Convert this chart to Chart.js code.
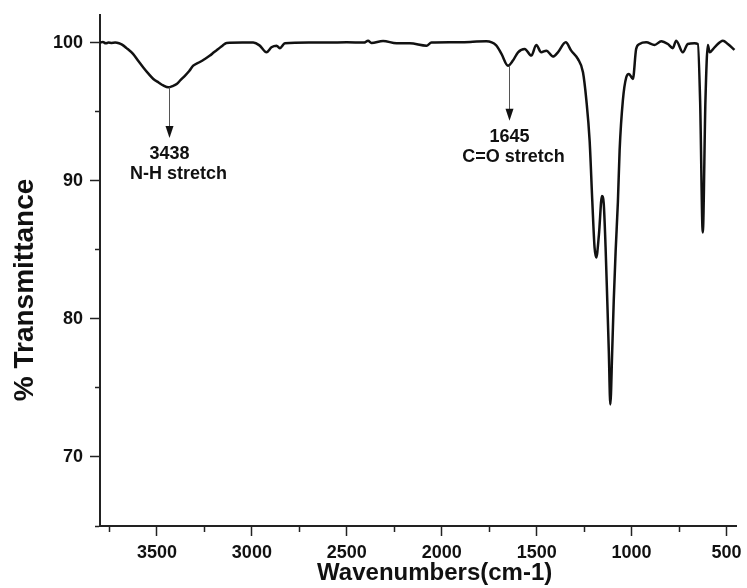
<!DOCTYPE html>
<html>
<head>
    <title>FTIR Spectrum</title>
    <script src="https://cdn.jsdelivr.net/npm/chart.js"></script>
    <style>
        body { margin: 0; background: #fff; }
    </style>
</head>
<body>
    <canvas id="myChart" width="747" height="588"></canvas>
    <script>
        // spectrum (cm-1, % transmittance)
        const wavenumbers = [
            3800, 3785, 3770, 3755, 3740, 3720, 3700, 3684, 3660, 3626,
            3600, 3572, 3545, 3519, 3490, 3467, 3440, 3418, 3396, 3375,
            3353, 3330, 3309, 3274, 3250, 3221, 3200, 3177, 3155, 3133,
            3050, 2993, 2960, 2923, 2897, 2870, 2853, 2826, 2700, 2600,
            2500, 2410, 2388, 2370, 2309, 2238, 2168, 2080, 2054, 1950,
            1850, 1765, 1713, 1686, 1651, 1625, 1598, 1563, 1528, 1502,
            1476, 1449, 1414, 1388, 1347, 1318, 1283, 1256, 1238, 1221,
            1207, 1195, 1186, 1172, 1156, 1147, 1137, 1128, 1120, 1112,
            1102, 1094, 1084, 1072, 1063, 1046, 1028, 1014, 993, 976,
            958, 923, 879, 844, 809, 783, 765, 730, 704, 668,
            651, 639, 625, 611, 598, 589, 563, 519, 493, 458
        ];
        const transmittance = [
            100.0, 100.05, 99.95, 100.0, 99.98, 100.0, 99.95, 99.85, 99.6, 99.18,
            98.7, 98.2, 97.75, 97.37, 97.1, 96.9, 96.76, 96.85, 97.0, 97.3,
            97.6, 97.95, 98.33, 98.6, 98.8, 99.06, 99.3, 99.54, 99.78, 99.98,
            100.0, 100.0, 99.8, 99.3, 99.66, 99.78, 99.6, 99.95, 100.0, 100.0,
            100.02, 100.0, 100.14, 99.98, 100.12, 99.95, 99.95, 99.78, 100.0, 100.02,
            100.05, 100.1, 99.8, 99.2, 98.33, 98.7, 99.3, 99.54, 99.06, 99.83,
            99.3, 99.42, 98.99, 99.3, 100.02, 99.42, 98.82, 97.85, 95.8, 92.9,
            88.55, 85.17, 84.44, 86.1, 88.9, 88.4, 85.2, 81.3, 77.7, 73.8,
            77.7, 81.3, 84.9, 88.5, 92.2, 95.8, 97.49, 97.73, 97.37, 99.54,
            99.9, 100.02, 99.83, 100.1, 99.9, 99.6, 100.14, 99.3, 99.9, 99.95,
            99.9, 95.8, 86.25, 95.8, 99.83, 99.3, 99.66, 100.14, 99.9, 99.47
        ];

        // peak annotations
        const annotWavenumber = [3438, 1645];
        const annotPeak = [96.76, 98.33];
        const annotArrowTip = [93.1, 94.35];
        const annotValue = ['3438', '1645'];
        const annotLabel = ['N-H stretch', 'C=O stretch'];

        const xMin = 450, xMax = 3800;
        const yMin = 65, yMax = 102;

        Chart.defaults.font.family = '"Liberation Sans", Arial, sans-serif';
        Chart.defaults.color = '#111';

        const peakArrows = {
            id: 'peakArrows',
            afterDatasetsDraw(chart) {
                const ctx = chart.ctx;
                const xs = chart.scales.x, ys = chart.scales.y;
                const labelDx = [9, 4];
                ctx.save();
                annotWavenumber.forEach((wn, i) => {
                    const x = Math.round(xs.getPixelForValue(wn)) + 0.5;
                    const y0 = ys.getPixelForValue(annotPeak[i]);
                    const y1 = ys.getPixelForValue(annotArrowTip[i]);
                    ctx.strokeStyle = '#555';
                    ctx.lineWidth = 1;
                    ctx.beginPath();
                    ctx.moveTo(x, y0);
                    ctx.lineTo(x, y1 - 10);
                    ctx.stroke();
                    ctx.fillStyle = '#111';
                    ctx.beginPath();
                    ctx.moveTo(x - 4, y1 - 12);
                    ctx.lineTo(x + 4, y1 - 12);
                    ctx.lineTo(x, y1);
                    ctx.closePath();
                    ctx.fill();
                    ctx.font = 'bold 18px "Liberation Sans", Arial, sans-serif';
                    ctx.textAlign = 'center';
                    ctx.textBaseline = 'middle';
                    ctx.fillText(annotValue[i], x, y1 + 16);
                    ctx.fillText(annotLabel[i], x + labelDx[i], y1 + 36);
                });
                ctx.restore();
            }
        };

        const ctx = document.getElementById('myChart').getContext('2d');
        new Chart(ctx, {
            type: 'line',
            data: {
                datasets: [{
                    data: wavenumbers.map((w, i) => ({ x: w, y: transmittance[i] })),
                    borderColor: '#111',
                    borderWidth: 2.5,
                    pointRadius: 0,
                    cubicInterpolationMode: 'monotone',
                    fill: false
                }]
            },
            options: {
                responsive: false,
                animation: false,
                layout: { padding: { top: 15, right: 11, bottom: 0, left: 0 } },
                plugins: {
                    legend: { display: false },
                    tooltip: { enabled: false }
                },
                scales: {
                    x: {
                        type: 'linear',
                        reverse: true,
                        min: xMin,
                        max: xMax,
                        afterFit: s => { s.height = 62; s.paddingLeft = 0; s.paddingRight = 0; },
                        border: { color: '#222', width: 2 },
                        grid: {
                            drawOnChartArea: false,
                            drawTicks: true,
                            tickLength: 10,
                            tickColor: '#222',
                            tickWidth: 1.5,
                            tickBorderDash: c => (c.tick && c.tick.value % 500 !== 0) ? [5, 20] : []
                        },
                        ticks: {
                            stepSize: 250,
                            includeBounds: false,
                            autoSkip: false,
                            maxRotation: 0,
                            padding: 6,
                            font: { size: 18, weight: 'bold' },
                            callback: v => v % 500 === 0 ? v : ''
                        },
                        title: {
                            display: true,
                            text: '     Wavenumbers(cm-1)',
                            font: { size: 24, weight: 'bold' },
                            padding: { top: 0, bottom: 0 }
                        }
                    },
                    y: {
                        min: yMin,
                        max: yMax,
                        afterFit: s => { s.width = 100; s.paddingTop = 0; s.paddingBottom = 0; },
                        border: { color: '#222', width: 2 },
                        grid: {
                            drawOnChartArea: false,
                            drawTicks: true,
                            tickLength: 10,
                            tickColor: '#222',
                            tickWidth: 1.5,
                            tickBorderDash: c => (c.tick && c.tick.value % 10 !== 0) ? [0, 5, 20, 0] : []
                        },
                        ticks: {
                            stepSize: 5,
                            includeBounds: false,
                            autoSkip: false,
                            padding: 7,
                            font: { size: 18, weight: 'bold' },
                            callback: v => v % 10 === 0 ? v : ''
                        },
                        title: {
                            display: true,
                            text: '% Transmittance     ',
                            font: { size: 28, weight: 'bold' },
                            padding: { top: 8, bottom: 0 }
                        }
                    }
                }
            },
            plugins: [peakArrows]
        });
    </script>
</body>
</html>
